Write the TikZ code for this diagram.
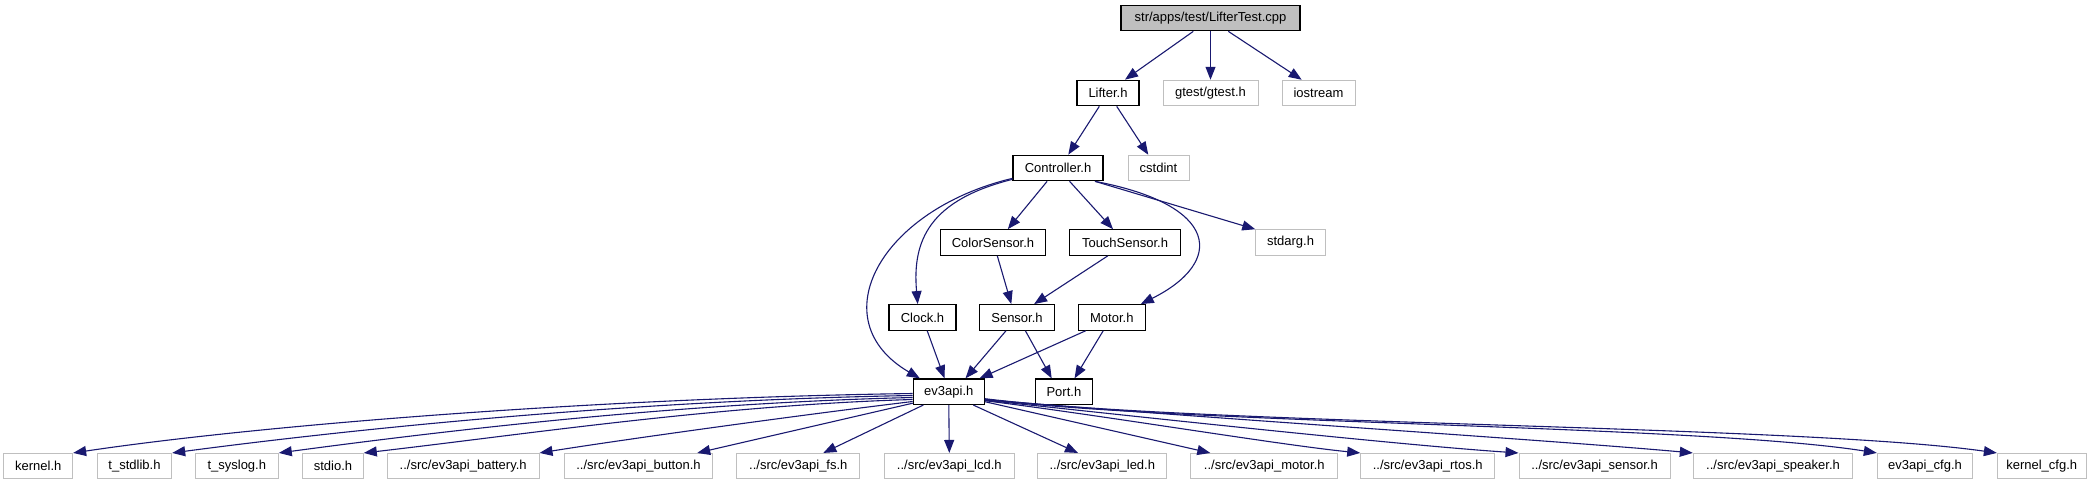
\documentclass[tikz,border=0pt]{standalone}
\usepackage{fontspec}
\setmainfont{Liberation Sans}
\usetikzlibrary{arrows.meta}
\definecolor{edgeblue}{HTML}{191970}
\definecolor{boxgrey}{HTML}{BFBFBF}
\begin{document}
\begin{tikzpicture}[x=1pt,y=-1pt,
  every node/.style={font=\fontsize{13}{15}\selectfont, inner sep=0pt, minimum height=25.5pt, anchor=center},
  fbox/.style={draw=black, line width=1.2pt, fill=white},
  gbox/.style={draw=boxgrey, line width=1pt, fill=white},
  rootbox/.style={draw=black, line width=1.2pt, fill=boxgrey},
  dep/.style={draw=edgeblue, line width=1.1pt, -{Triangle[length=13pt,width=10pt]}}
]
\useasboundingbox (0,0) rectangle (2096,485);
% row 0
\node[rootbox, minimum width=179pt] (root) at (1210.5,18) {str/apps/test/LifterTest.cpp};
% row 1
\node[fbox, minimum width=62pt] (lifter) at (1108,93) {Lifter.h};
\node[gbox, minimum width=95pt] (gtest) at (1210.5,93) {gtest/gtest.h};
\node[gbox, minimum width=73pt] (iostream) at (1318.5,93) {iostream};
% row 2
\node[fbox, minimum width=90pt] (controller) at (1058,168) {Controller.h};
\node[gbox, minimum width=61pt] (cstdint) at (1158.5,168) {cstdint};
% row 3
\node[fbox, minimum width=105pt] (color) at (993,242.5) {ColorSensor.h};
\node[fbox, minimum width=111pt] (touch) at (1125,242.5) {TouchSensor.h};
\node[gbox, minimum width=69.5pt] (stdarg) at (1290.5,242.5) {stdarg.h};
% row 4
\node[fbox, minimum width=67pt] (clock) at (922.5,317.4) {Clock.h};
\node[fbox, minimum width=74.5pt] (sensor) at (1017,317.4) {Sensor.h};
\node[fbox, minimum width=67pt] (motorh) at (1111.8,317.4) {Motor.h};
% row 5
\node[fbox, minimum width=71pt] (ev3api) at (948.8,391.7) {ev3api.h};
\node[fbox, minimum width=57.5pt] (port) at (1063.9,391.7) {Port.h};
% row 6
\node[gbox, minimum width=68.7pt] (kernel) at (38.3,466.2) {kernel.h};
\node[gbox, minimum width=74.4pt] (stdlib) at (134.5,466.2) {t\_stdlib.h};
\node[gbox, minimum width=83pt] (syslog) at (236.8,466.2) {t\_syslog.h};
\node[gbox, minimum width=60.6pt] (stdio) at (333,466.2) {stdio.h};
\node[gbox, minimum width=151.7pt] (battery) at (463.2,466.2) {../src/ev3api\_battery.h};
\node[gbox, minimum width=148.4pt] (button) at (638.5,466.2) {../src/ev3api\_button.h};
\node[gbox, minimum width=123.3pt] (fs) at (798.3,466.2) {../src/ev3api\_fs.h};
\node[gbox, minimum width=130pt] (lcd) at (949.3,466.2) {../src/ev3api\_lcd.h};
\node[gbox, minimum width=128.7pt] (led) at (1102.3,466.2) {../src/ev3api\_led.h};
\node[gbox, minimum width=146.7pt] (motorb) at (1264.3,466.2) {../src/ev3api\_motor.h};
\node[gbox, minimum width=134pt] (rtos) at (1427.7,466.2) {../src/ev3api\_rtos.h};
\node[gbox, minimum width=151pt] (sensorb) at (1594.5,466.2) {../src/ev3api\_sensor.h};
\node[gbox, minimum width=159.4pt] (speaker) at (1773,466.2) {../src/ev3api\_speaker.h};
\node[gbox, minimum width=95.4pt] (cfg) at (1925,466.2) {ev3api\_cfg.h};
\node[gbox, minimum width=88.7pt] (kcfg) at (2041.7,466.2) {kernel\_cfg.h};
% edges top
\draw[dep] ([xshift=-17.2pt]root.south) -- ([xshift=17pt]lifter.north);
\draw[dep] (root.south) -- (gtest.north);
\draw[dep] ([xshift=17.8pt]root.south) -- ([xshift=-16.8pt]iostream.north);
\draw[dep] ([xshift=-8.7pt]lifter.south) -- ([xshift=10.3pt]controller.north);
\draw[dep] ([xshift=8.7pt]lifter.south) -- ([xshift=-10.2pt]cstdint.north);
\draw[dep] ([xshift=-10.9pt]controller.south) -- ([xshift=14.8pt]color.north);
\draw[dep] ([xshift=11.6pt]controller.south) -- ([xshift=-12pt]touch.north);
\draw[dep] ([xshift=37pt]controller.south) -- (stdarg.north west);
\draw[dep] ([xshift=37pt]controller.south) .. controls (1220,205) and (1225,262) .. ([xshift=29pt]motorh.north);
\draw[dep] ([yshift=2pt]controller.south west) .. controls (930,200) and (912,240) .. ([xshift=-4.8pt]clock.north);
\draw[dep] ([yshift=3pt]controller.south west) .. controls (880,210) and (820,320) .. ([xshift=-29pt]ev3api.north);
\draw[dep] ([xshift=4.3pt]color.south) -- ([xshift=-5.7pt]sensor.north);
\draw[dep] ([xshift=-17.2pt]touch.south) -- ([xshift=17.1pt]sensor.north);
\draw[dep] ([xshift=4.7pt]clock.south) -- ([xshift=-4.3pt]ev3api.north);
\draw[dep] ([xshift=-11pt]sensor.south) -- ([xshift=16.7pt]ev3api.north);
\draw[dep] ([xshift=8.4pt]sensor.south) -- ([xshift=-12.2pt]port.north);
\draw[dep] ([xshift=-26.1pt]motorh.south) -- ([xshift=30.8pt]ev3api.north);
\draw[dep] ([xshift=-8.6pt]motorh.south) -- ([xshift=10.6pt]port.north);
% edges bottom, left side
\draw[dep] ([yshift=-1.8pt]ev3api.west) .. controls (600,398) and (260,425) .. (kernel.north east);
\draw[dep] ([yshift=-3.8pt]ev3api.west) .. controls (640,400) and (360,428) .. (stdlib.north east);
\draw[dep] ([yshift=-5.8pt]ev3api.west) .. controls (680,403) and (450,430) .. (syslog.north east);
\draw[dep] ([yshift=-7.8pt]ev3api.west) .. controls (720,405) and (520,435) .. (stdio.north east);
\draw[dep] ([yshift=-9.8pt]ev3api.west) .. controls (800,415) and (620,440) .. (battery.north east);
\draw[dep] ([yshift=-11.5pt]ev3api.west) -- ([xshift=-16pt]button.north east);
\draw[dep] ([xshift=-25.5pt]ev3api.south) -- ([xshift=25pt]fs.north);
\draw[dep] (ev3api.south) -- (lcd.north);
\draw[dep] ([xshift=24.5pt]ev3api.south) -- ([xshift=-24.3pt]led.north);
% edges bottom, right side
\draw[dep] ([yshift=-10pt]ev3api.east) -- ([xshift=-54pt]motorb.north);
\draw[dep] ([yshift=-9pt]ev3api.east) .. controls (1100,415) and (1280,445) .. (rtos.north west);
\draw[dep] ([yshift=-8.5pt]ev3api.east) .. controls (1150,418) and (1400,445) .. (sensorb.north west);
\draw[dep] ([yshift=-8pt]ev3api.east) .. controls (1200,418) and (1550,440) .. (speaker.north west);
\draw[dep] ([yshift=-7.5pt]ev3api.east) .. controls (1180,424) and (1700,425) .. (cfg.north west);
\draw[dep] ([yshift=-7pt]ev3api.east) .. controls (1200,425) and (1800,425) .. (kcfg.north west);
\end{tikzpicture}
\end{document}
